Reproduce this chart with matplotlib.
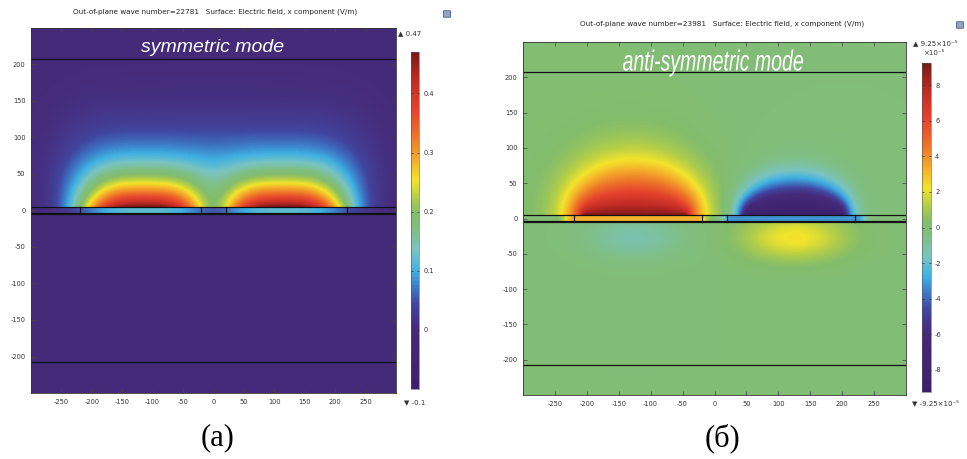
import numpy as np
import matplotlib
matplotlib.use("Agg")
import matplotlib.pyplot as plt
from matplotlib.colors import LinearSegmentedColormap
from matplotlib.patches import FancyBboxPatch, PathPatch
from matplotlib.textpath import TextPath
from matplotlib.font_manager import FontProperties
import matplotlib.transforms as mtransforms

plt.rcParams["axes.unicode_minus"] = False

# ---------------- data ----------------
titles = ["Out-of-plane wave number=22781   Surface: Electric field, x component (V/m)",
          "Out-of-plane wave number=23981   Surface: Electric field, x component (V/m)"]
mode_names = ["symmetric mode", "anti-symmetric mode"]
panel_labels = ["(a)", "(б)"]
x_ticks = [-250, -200, -150, -100, -50, 0, 50, 100, 150, 200, 250]
y_ticks = [-200, -150, -100, -50, 0, 50, 100, 150, 200]
strip_edges = [-220, -20, 20, 220]          # metal strip boundaries (x)
layer_top, layer_bot = 5, -5                # thin layer (y)
clad_lines = [207, -207]                    # outer horizontal boundaries
sym_centers = [-115, 115]
sym_amp = [0.47, 0.47]
sym_range = [-0.1, 0.47]
sym_cticks = [0, 0.1, 0.2, 0.3, 0.4]
anti_centers = [-125, 125]
anti_focal = [82, 74]                       # focal half-distance of lobe contours
anti_lin = [0.83, 0.67]                     # decay coefficients in elliptic coordinate
anti_cub = [1.15, 2.67]
anti_amp = [9.25, -9.25]                    # units of 1e-5 V/m
anti_below = [-1.3, 2.3]
anti_range = [-9.25, 9.25]
anti_cticks = [-8, -6, -4, -2, 0, 2, 4, 6, 8]

# ---------------- colormap (COMSOL-like rainbow) ----------------
cstops = [(0.00, "#3a206c"), (0.18, "#472b7b"), (0.25, "#41459f"),
          (0.30, "#3d79c6"), (0.35, "#3fb0e2"), (0.41, "#79c4c2"),
          (0.47, "#80bf85"), (0.52, "#83bd6b"), (0.57, "#b6cf47"),
          (0.62, "#f3e42b"), (0.68, "#f4ad2a"), (0.75, "#ee7429"),
          (0.83, "#e5432d"), (0.92, "#c02a25"), (1.00, "#781818")]
cmap = LinearSegmentedColormap.from_list("comsol", cstops)

xg = np.linspace(-300, 300, 601)
yg = np.linspace(-250, 250, 501)
X, Y = np.meshgrid(xg, yg)

def sym_field():
    above = Y >= layer_top
    layer = (Y < layer_top) & (Y > layer_bot)
    yy = np.clip(Y - layer_top, 0, None)
    lobes_up, lobes_layer = [], []
    for c, a in zip(sym_centers, sym_amp):
        dx = np.abs(X - c)
        inner = (X - c) * c < 0
        s = np.where(inner, 108 + 0.5 * yy, 108 + 0.25 * yy)
        px = (dx / s) ** 3
        py = yy / 58 + (yy / 140) ** 2
        lobes_up.append(a * np.exp(-(px + py)))
        lobes_layer.append(0.25 * a * np.exp(-(dx / 110) ** 3))
    up = np.sqrt(lobes_up[0] ** 2 + lobes_up[1] ** 2)
    ly = np.sqrt(lobes_layer[0] ** 2 + lobes_layer[1] ** 2)
    F = np.zeros_like(X)
    F[above] = up[above]
    F[layer] = ly[layer]
    F[Y <= layer_bot] = -0.005
    return F

def elliptic_mu(dx, yy, f):
    r1 = np.sqrt((dx + f) ** 2 + yy ** 2)
    r2 = np.sqrt((dx - f) ** 2 + yy ** 2)
    return np.arccosh(np.clip((r1 + r2) / (2 * f), 1, None))

def anti_field():
    above = Y >= layer_top
    layer = (Y < layer_top) & (Y > layer_bot)
    below = Y <= layer_bot
    yy = np.clip(Y - layer_top, 0, None)
    yb = np.clip(layer_bot - Y, 0, None)
    F = np.zeros_like(X)
    for c, f, al, be, a, ab in zip(anti_centers, anti_focal, anti_lin, anti_cub,
                                    anti_amp, anti_below):
        dx = X - c
        mu = elliptic_mu(dx, yy, f)
        up = a * (0.9 * np.exp(-(al * mu + be * mu ** 3)) + 0.1 * np.exp(-mu / 1.2))
        out = np.clip(np.abs(dx) - 98, 0, None)
        ly = 0.35 * a * np.exp(-(out / 15) ** 2)
        bl = ab * np.exp(-(dx / 82) ** 2 - ((yb - 22) / 32) ** 2)
        F = F + np.where(above, up, 0) + np.where(layer, ly, 0) + np.where(below, bl, 0)
    return F

fields = [sym_field(), anti_field()]
ranges = [sym_range, anti_range]
cticks = [sym_cticks, anti_cticks]

W, H = 967, 459
fig = plt.figure(figsize=(W / 100, H / 100), dpi=100)
fig.patch.set_facecolor("white")

def fr(x0, y0, x1, y1):
    return [x0 / W, 1 - y1 / H, (x1 - x0) / W, (y1 - y0) / H]

ax_rects = [fr(31, 28, 396, 393), fr(523, 42, 906, 395)]
cb_rects = [fr(411, 52, 419, 389), fr(922, 63, 931, 392)]
title_pos = [(215, 12), (722, 24)]
label_pos = [(218, 438), (723, 438)]
icon_pos = [(447, 14), (960, 25)]

tick_color = "#333333"
for i in range(2):
    ax = fig.add_axes(ax_rects[i])
    vmin, vmax = ranges[i]
    im = ax.imshow(fields[i], extent=[xg[0], xg[-1], yg[0], yg[-1]], origin="lower",
                   cmap=cmap, vmin=vmin, vmax=vmax, aspect="auto", interpolation="bilinear")
    ax.set_xlim(-300, 300)
    ax.set_ylim(-250, 250)
    for yl in clad_lines:
        ax.axhline(yl, color="#111111", lw=0.9)
    ax.axhline(layer_top, color="#111111", lw=0.9)
    ax.axhline(layer_bot, color="#111111", lw=1.6)
    for xe in strip_edges:
        ax.plot([xe, xe], [layer_bot, layer_top], color="#111111", lw=0.9)
    ax.set_xticks(x_ticks)
    ax.set_yticks(y_ticks)
    ax.tick_params(direction="in", top=True, right=True, length=3, width=0.5,
                   labelsize=4.8, labelcolor=tick_color, color="#444444", pad=4)
    for sp in ax.spines.values():
        sp.set_color("#333333")
        sp.set_linewidth(0.6)

    cax = fig.add_axes(cb_rects[i])
    cb = fig.colorbar(im, cax=cax, ticks=cticks[i])
    cb.outline.set_linewidth(0.4)
    cb.outline.set_edgecolor("#555555")
    cax.tick_params(direction="in", left=True, right=True, length=1.5, width=0.5,
                    labelsize=4.8, labelcolor=tick_color, color="#333333", pad=3)
    cax.set_yticklabels([f"{t:g}" for t in cticks[i]])

    fig.text(title_pos[i][0] / W, 1 - title_pos[i][1] / H, titles[i], fontsize=5.2,
             color="#222222", ha="center", va="center")
    fig.text(label_pos[i][0] / W, 1 - label_pos[i][1] / H, panel_labels[i],
             fontsize=22, family="Liberation Serif", ha="center", va="center", color="black")
    fig.patches.append(FancyBboxPatch(((icon_pos[i][0] - 3) / W, 1 - (icon_pos[i][1] + 3) / H),
                                      6 / W, 6 / H, boxstyle="round,pad=0.0005",
                                      transform=fig.transFigure, facecolor="#8fa6c8",
                                      edgecolor="#4a5a78", lw=0.6))

# mode names (white, on the plots)
fig.text(213 / W, 1 - 47 / H, mode_names[0], fontsize=14,
         family="Liberation Sans", style="italic", color="white", ha="center", va="center")
# condensed italic text built from a text path, squeezed horizontally
fp = FontProperties(family="Liberation Sans", style="italic")
tp = TextPath((0, 0), mode_names[1], size=100, prop=fp)
bb = tp.get_extents()
sx, sy = 180 / bb.width, 27 / bb.height
tr = (mtransforms.Affine2D()
      .translate(-(bb.x0 + bb.width / 2), -(bb.y0 + bb.height / 2))
      .scale(sx, sy)
      .translate(713, H - 63)
      .scale(1 / W, 1 / H) + fig.transFigure)
fig.add_artist(PathPatch(tp, transform=tr, facecolor="white", edgecolor="none"))

# colorbar extreme labels
fig.text(398 / W, 1 - 33 / H, "▲ 0.47", fontsize=5, color=tick_color, ha="left", va="center")
fig.text(404 / W, 1 - 402 / H, "▼ -0.1", fontsize=5, color=tick_color, ha="left", va="center")
fig.text(913 / W, 1 - 43 / H, "▲ 9.25×10⁻⁵", fontsize=5, color=tick_color, ha="left", va="center")
fig.text(923 / W, 1 - 53 / H, "×10⁻⁵", fontsize=5, color=tick_color, ha="left", va="center")
fig.text(912 / W, 1 - 403 / H, "▼ -9.25×10⁻⁵", fontsize=5, color=tick_color, ha="left", va="center")

fig.savefig("out.png", dpi=100, facecolor="white")
